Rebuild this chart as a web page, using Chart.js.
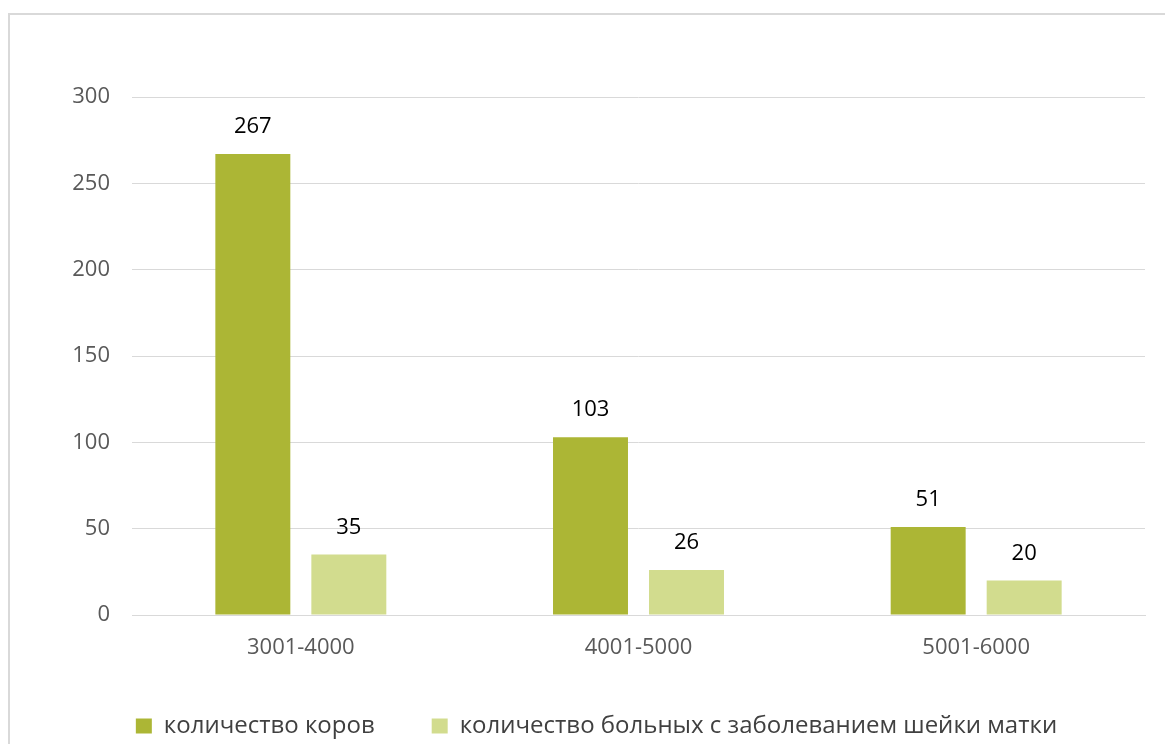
<!DOCTYPE html>
<html>
<head>
<meta charset="utf-8">
<script src="https://cdn.jsdelivr.net/npm/chart.js@4.4.1/dist/chart.umd.min.js"></script>
<style>
  html, body { margin: 0; padding: 0; background: #fff; overflow: hidden; }
  #wrap { position: relative; width: 1165px; height: 744px; }
  #frame { position: absolute; left: 8px; top: 13px; width: 1200px; height: 800px; border: 2px solid #d9d9d9; box-sizing: border-box; }
  #c { position: absolute; left: 0; top: 0; }
</style>
</head>
<body>
<div id="wrap">
  <div id="frame"></div>
  <canvas id="c" width="1165" height="744"></canvas>
</div>
<script>
const categories = ['3001-4000', '4001-5000', '5001-6000'];
const seriesNames = ['количество коров', 'количество больных с заболеванием шейки матки'];
const cows = [267, 103, 51];
const sick = [35, 26, 20];
const yTicks = [0, 50, 100, 150, 200, 250, 300];

const FONT = "'Open Sans', 'DejaVu Sans', sans-serif";

const valueLabels = {
  id: 'valueLabels',
  afterDatasetsDraw(chart) {
    const ctx = chart.ctx;
    ctx.save();
    ctx.font = '22px ' + FONT;
    ctx.fillStyle = '#000000';
    ctx.textAlign = 'center';
    ctx.textBaseline = 'middle';
    chart.data.datasets.forEach((ds, di) => {
      const meta = chart.getDatasetMeta(di);
      meta.data.forEach((bar, i) => {
        ctx.fillText(String(ds.data[i]), bar.x, bar.y - 27);
      });
    });
    ctx.restore();
  }
};

new Chart(document.getElementById('c'), {
  type: 'bar',
  data: {
    labels: categories,
    datasets: [
      { label: seriesNames[0], data: cows, backgroundColor: '#acb635', borderWidth: 0 },
      { label: seriesNames[1], data: sick, backgroundColor: '#d2dc8e', borderWidth: 0 }
    ]
  },
  options: {
    responsive: false,
    animation: false,
    devicePixelRatio: 1,
    categoryPercentage: 0.5686,
    barPercentage: 0.781,
    layout: { padding: { left: 48, right: 20, top: 97, bottom: -4 } },
    plugins: {
      tooltip: { enabled: false },
      legend: {
        position: 'bottom',
        align: 'center',
        labels: {
          font: { family: FONT, size: 24 },
          color: '#404040',
          boxWidth: 16,
          boxHeight: 15,
          padding: 57
        }
      }
    },
    scales: {
      x: {
        grid: { display: false, drawTicks: false },
        border: { display: true, color: '#d9d9d9', width: 1 },
        ticks: { font: { family: FONT, size: 22 }, color: '#595959', padding: 20, maxRotation: 0 },
        afterFit(scale) { scale.height = 42; }
      },
      y: {
        min: 0,
        max: 300,
        afterBuildTicks(scale) { scale.ticks = yTicks.map(v => ({ value: v })); },
        grid: { color: '#d9d9d9', lineWidth: 1, drawTicks: false },
        border: { display: false },
        ticks: { font: { family: FONT, size: 22 }, color: '#595959', padding: 22 },
        afterFit(scale) { scale.width = 84; }
      }
    }
  },
  plugins: [valueLabels]
});
</script>
</body>
</html>
